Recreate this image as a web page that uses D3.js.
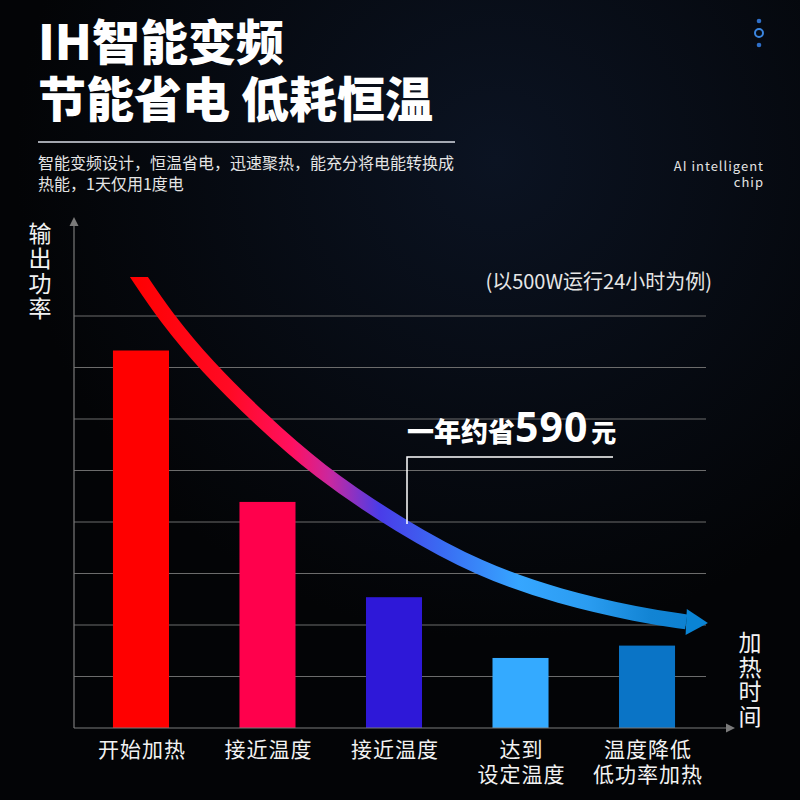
<!DOCTYPE html>
<html>
<head>
<meta charset="utf-8">
<script src="https://cdnjs.cloudflare.com/ajax/libs/d3/7.8.5/d3.min.js"></script>
<style>
body { margin: 0; background: #030406; }
svg { display: block; }
text { font-family: "Noto Sans CJK SC", "Noto Sans", sans-serif; }
.grid line { stroke: #6c6c6c; stroke-width: 1; }
.axis-line { stroke: #7a7a7a; stroke-width: 1.2; }
.vtitle { writing-mode: vertical-rl; text-orientation: upright; }
</style>
</head>
<body>
<svg id="chart" width="800" height="800"></svg>
<script>

// bar categories (two-line labels) and bar heights (grid units)
var stages  = ["开始加热", "接近温度", "接近温度 ", "达到|设定温度", "温度降低|低功率加热"];
var power   = [7.33, 4.39, 2.54, 1.36, 1.60];
var colors  = ["#ff0000", "#ff004c", "#2e18d8", "#34aaff", "#0a74c6"];
var gridTicks = [1, 2, 3, 4, 5, 6, 7, 8];

// trend arrow: x in % of axis width, y in grid units
var trendX = [7.8, 10.0, 14.1, 20.7, 29.0, 37.9, 50.9, 63.5, 76.0, 88.6, 95.8];
var trendY = [9.17, 8.76, 8.0, 7.01, 6.0, 5.01, 3.92, 3.07, 2.54, 2.19, 2.06];
var arrowTip = [99.2, 2.04];

var svg = d3.select("#chart");
var W = 800, H = 800;

var defs = svg.append("defs");

// background with a faint blue glow
var bg = defs.append("radialGradient").attr("id", "bg")
    .attr("cx", "0.62").attr("cy", "0.2").attr("r", "0.6");
bg.append("stop").attr("offset", "0").attr("stop-color", "#0b1322");
bg.append("stop").attr("offset", "1").attr("stop-color", "#030406");
svg.append("rect").attr("width", W).attr("height", H).attr("fill", "url(#bg)");

// ---- header ----
svg.append("text").attr("x", 38).attr("y", 60)
    .attr("fill", "#fff").style("font-size", "48px").style("font-weight", 900)
    .text("IH智能变频");
svg.append("text").attr("x", 38).attr("y", 117)
    .attr("fill", "#fff").style("font-size", "48px").style("font-weight", 900)
    .text("节能省电 低耗恒温");
svg.append("line").attr("x1", 38).attr("x2", 455).attr("y1", 142).attr("y2", 142)
    .attr("stroke", "#d8dce6").attr("stroke-width", 1.5);
svg.append("text").attr("x", 38).attr("y", 169)
    .attr("fill", "#e4e4e4").style("font-size", "16px")
    .text("智能变频设计，恒温省电，迅速聚热，能充分将电能转换成");
svg.append("text").attr("x", 38).attr("y", 190)
    .attr("fill", "#e4e4e4").style("font-size", "16px")
    .text("热能，1天仅用1度电");
svg.append("text").attr("x", 764).attr("y", 171).attr("text-anchor", "end")
    .attr("fill", "#e4e4e4").style("font-size", "13px").style("letter-spacing", "1px")
    .text("AI intelligent");
svg.append("text").attr("x", 764).attr("y", 187).attr("text-anchor", "end")
    .attr("fill", "#e4e4e4").style("font-size", "13px").style("letter-spacing", "1px")
    .text("chip");

// little icon top right
svg.append("circle").attr("cx", 759).attr("cy", 21).attr("r", 2.3).attr("fill", "#2f6fc8");
svg.append("circle").attr("cx", 759).attr("cy", 33).attr("r", 4).attr("fill", "none")
    .attr("stroke", "#3b86e0").attr("stroke-width", 2);
svg.append("circle").attr("cx", 759).attr("cy", 45).attr("r", 2.3).attr("fill", "#2f6fc8");

// ---- scales ----
var x = d3.scaleBand()
    .domain(stages)
    .range([75, 713])
    .paddingInner(0.557)
    .paddingOuter(0.3);

var y = d3.scaleLinear()
    .domain([0, 8])
    .range([728, 316]);

var tx = d3.scaleLinear().domain([0, 100]).range([75, 713]);

// grid lines
svg.append("g").attr("class", "grid")
    .selectAll("line").data(gridTicks).enter().append("line")
    .attr("x1", 74).attr("x2", 706)
    .attr("y1", function(d){ return y(d); })
    .attr("y2", function(d){ return y(d); });

// bars
svg.append("g").selectAll("rect")
    .data(stages).enter().append("rect")
    .attr("x", function(d){ return x(d); })
    .attr("width", x.bandwidth())
    .attr("y", function(d, i){ return y(power[i]); })
    .attr("height", function(d, i){ return y(0) - y(power[i]); })
    .attr("fill", function(d, i){ return colors[i]; });

// axes with arrow heads
svg.append("line").attr("class", "axis-line")
    .attr("x1", 74).attr("x2", 74).attr("y1", y(0)).attr("y2", 224);
svg.append("path").attr("fill", "#7a7a7a")
    .attr("d", "M74,217 L69.5,226 L78.5,226 Z");
svg.append("line").attr("class", "axis-line")
    .attr("x1", 74).attr("x2", 727).attr("y1", y(0)).attr("y2", y(0));
svg.append("path").attr("fill", "#7a7a7a")
    .attr("d", "M735," + y(0) + " L726," + (y(0) - 4.5) + " L726," + (y(0) + 4.5) + " Z");

// axis titles, written vertically
svg.append("text").attr("class", "vtitle")
    .attr("x", 40).attr("y", 222)
    .attr("fill", "#f2f2f2")
    .style("font-size", "23px").style("letter-spacing", "2px")
    .text("输出功率");
svg.append("text").attr("class", "vtitle")
    .attr("x", 750).attr("y", 631)
    .attr("fill", "#f2f2f2")
    .style("font-size", "23px").style("letter-spacing", "1.5px")
    .text("加热时间");

// category labels
svg.append("g").selectAll("text")
    .data(stages).enter().append("text")
    .attr("text-anchor", "middle")
    .attr("fill", "#f2f2f2")
    .style("font-size", "21px").style("letter-spacing", "1px")
    .each(function(d){
        var t = d3.select(this);
        d.trim().split("|").forEach(function(line, k){
            t.append("tspan")
                .attr("x", x(d) + x.bandwidth() / 2 + 1)
                .attr("y", 757 + k * 24.5)
                .text(line);
        });
    });

// note
svg.append("text").attr("x", 712).attr("y", 289).attr("text-anchor", "end")
    .attr("fill", "#e6e6e6").style("font-size", "20px")
    .text("(以500W运行24小时为例)");

// ---- trend arrow ----
var grad = defs.append("linearGradient").attr("id", "trend")
    .attr("gradientUnits", "userSpaceOnUse")
    .attr("x1", 130).attr("y1", 0).attr("x2", 710).attr("y2", 0);
[[0, "#ff0000"], [0.17, "#ff0a24"], [0.28, "#ff1060"], [0.345, "#c828a0"],
 [0.43, "#4a3ce8"], [0.535, "#3a6af2"], [0.67, "#36a6ff"], [0.79, "#2a9cf0"],
 [0.897, "#1284d4"], [1, "#0a80d0"]].forEach(function(s){
    grad.append("stop").attr("offset", s[0]).attr("stop-color", s[1]);
});

defs.append("clipPath").attr("id", "trendClip")
    .append("rect").attr("x", 0).attr("y", 277).attr("width", W).attr("height", H);

var trendPts = trendX.map(function(d, i){ return [tx(d), y(trendY[i])]; });
var line = d3.line().curve(d3.curveBasis);

svg.append("path")
    .attr("d", line(trendPts))
    .attr("clip-path", "url(#trendClip)")
    .attr("fill", "none")
    .attr("stroke", "url(#trend)")
    .attr("stroke-width", 15);

var last = trendPts[trendPts.length - 1];
var tip = [tx(arrowTip[0]), y(arrowTip[1])];
var ang = Math.atan2(tip[1] - last[1], tip[0] - last[0]);
var nx = -Math.sin(ang) * 13, ny = Math.cos(ang) * 13;
svg.append("path")
    .attr("fill", "#0a84d4")
    .attr("d", "M" + tip[0] + "," + tip[1] +
               " L" + (last[0] + nx) + "," + (last[1] + ny) +
               " L" + (last[0] - nx) + "," + (last[1] - ny) + " Z");

// callout
svg.append("path")
    .attr("fill", "none").attr("stroke", "#fff").attr("stroke-width", 1.5)
    .attr("d", "M407,524 L407,457 L613,457");
var note = svg.append("text").attr("x", 407).attr("y", 442)
    .attr("fill", "#fff").style("font-weight", 900);
note.append("tspan").style("font-size", "27px").text("一年约省");
note.append("tspan").style("font-size", "41px").style("font-family", "'Noto Sans', 'Open Sans', sans-serif")
    .style("font-weight", 700).style("letter-spacing", "1px").text("590");
note.append("tspan").style("font-size", "25px").attr("dx", 3).text("元");

</script>
</body>
</html>
